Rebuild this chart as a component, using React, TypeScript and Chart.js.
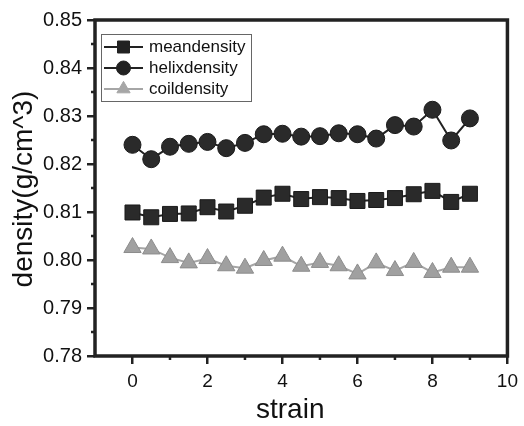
import React, { useEffect, useRef } from "react";
import { Chart, registerables } from "chart.js";

Chart.register(...registerables);

const strain = [0, 0.5, 1, 1.5, 2, 2.5, 3, 3.5, 4, 4.5, 5, 5.5, 6, 6.5, 7, 7.5, 8, 8.5, 9];
const meanDensity = [0.8099, 0.8089, 0.8096, 0.8097, 0.811, 0.8101, 0.8113, 0.813, 0.8138, 0.8127, 0.8131, 0.8129, 0.8123, 0.8125, 0.8129, 0.8137, 0.8144, 0.8121, 0.8138];
const helixDensity = [0.824, 0.821, 0.8236, 0.8242, 0.8246, 0.8233, 0.8244, 0.8262, 0.8263, 0.8257, 0.8258, 0.8264, 0.8262, 0.8253, 0.8281, 0.8278, 0.8313, 0.8249, 0.8295];
const coilDensity = [0.8026, 0.8023, 0.8005, 0.7994, 0.8003, 0.7988, 0.7983, 0.7999, 0.8008, 0.7987, 0.7995, 0.7988, 0.7971, 0.7994, 0.7978, 0.7995, 0.7974, 0.7985, 0.7985];
const xTicks = [0, 2, 4, 6, 8, 10];
const yTicks = [0.78, 0.79, 0.8, 0.81, 0.82, 0.83, 0.84, 0.85];
const xMinorTicks = [1, 3, 5, 7, 9];
const yMinorTicks = [0.785, 0.795, 0.805, 0.815, 0.825, 0.835, 0.845];
const seriesNames = ["meandensity", "helixdensity", "coildensity"];

const FONT = "'Liberation Sans', Arial, sans-serif";
const DARK = "#222222";
const GRAY = "#a6a6a6";

function drawMarker(ctx: CanvasRenderingContext2D, style: string, x: number, y: number, s: number, fill: string, stroke: string) {
  ctx.save();
  ctx.fillStyle = fill;
  ctx.strokeStyle = stroke;
  ctx.lineWidth = 1;
  ctx.beginPath();
  if (style === "rect") {
    ctx.rect(x - s / 2, y - s / 2, s, s);
  } else if (style === "circle") {
    ctx.arc(x, y, s / 2, 0, Math.PI * 2);
  } else {
    const r = s / 1.7;
    ctx.moveTo(x, y - r);
    ctx.lineTo(x + r * 0.866, y + r / 2);
    ctx.lineTo(x - r * 0.866, y + r / 2);
    ctx.closePath();
  }
  ctx.fill();
  ctx.stroke();
  ctx.restore();
}

const framePlugin = {
  id: "frame",
  beforeDatasetsDraw(chart: any) {
    const { ctx, chartArea } = chart;
    const xs = chart.scales.x;
    const ys = chart.scales.y;
    ctx.save();
    ctx.strokeStyle = DARK;
    ctx.lineWidth = 3.5;
    ctx.beginPath();
    ctx.moveTo(chartArea.left, chartArea.bottom);
    ctx.lineTo(chartArea.left, chartArea.top);
    ctx.lineTo(chartArea.right, chartArea.top);
    ctx.lineTo(chartArea.right, chartArea.bottom);
    ctx.lineTo(chartArea.left, chartArea.bottom);
    ctx.closePath();
    ctx.stroke();
    ctx.lineWidth = 2.5;
    ctx.beginPath();
    xMinorTicks.forEach((v) => {
      const px = xs.getPixelForValue(v);
      ctx.moveTo(px, chartArea.bottom);
      ctx.lineTo(px, chartArea.bottom + 4);
    });
    yMinorTicks.forEach((v) => {
      const py = ys.getPixelForValue(v);
      ctx.moveTo(chartArea.left, py);
      ctx.lineTo(chartArea.left - 4, py);
    });
    ctx.stroke();
    ctx.restore();
  },
  afterDraw(chart: any) {
    const { ctx, chartArea } = chart;
    ctx.save();
    // axis titles
    ctx.fillStyle = "#111";
    ctx.font = `28px ${FONT}`;
    ctx.textAlign = "center";
    ctx.textBaseline = "middle";
    ctx.fillText("strain", (chartArea.left + chartArea.right) / 2 - 11, 410);
    ctx.save();
    ctx.translate(24, 189);
    ctx.rotate(-Math.PI / 2);
    ctx.fillText("density(g/cm^3)", 0, 0);
    ctx.restore();

    // legend
    ctx.strokeStyle = "#666";
    ctx.lineWidth = 1;
    ctx.strokeRect(101.5, 34.5, 150, 67);
    const rows = [47, 68, 89];
    const styles = ["rect", "circle", "triangle"];
    const colors = [DARK, DARK, GRAY];
    const sizes = [12, 14, 13];
    rows.forEach((ry, i) => {
      ctx.strokeStyle = colors[i];
      ctx.lineWidth = 2;
      ctx.beginPath();
      ctx.moveTo(104, ry);
      ctx.lineTo(143, ry);
      ctx.stroke();
      drawMarker(ctx, styles[i], 123.5, ry, sizes[i], colors[i], colors[i]);
      ctx.fillStyle = "#111";
      ctx.font = `17px ${FONT}`;
      ctx.textAlign = "left";
      ctx.textBaseline = "middle";
      ctx.fillText(seriesNames[i], 149, ry);
    });
    ctx.restore();
  },
};

export default function App() {
  const ref = useRef<HTMLCanvasElement>(null);

  useEffect(() => {
    document.body.style.margin = "0";
    const canvas = ref.current;
    if (!canvas) return;
    const toPts = (arr: number[]) => arr.map((y, i) => ({ x: strain[i], y }));
    const chart = new Chart(canvas, {
      type: "line",
      data: {
        datasets: [
          {
            label: seriesNames[0],
            data: toPts(meanDensity),
            borderColor: DARK,
            backgroundColor: "#2a2a2a",
            borderWidth: 2,
            pointStyle: "rect",
            pointRadius: 10.6,
            pointBorderColor: "#1a1a1a",
            pointBorderWidth: 1,
          },
          {
            label: seriesNames[1],
            data: toPts(helixDensity),
            borderColor: DARK,
            backgroundColor: "#2a2a2a",
            borderWidth: 2,
            pointStyle: "circle",
            pointRadius: 8.5,
            pointBorderColor: "#1a1a1a",
            pointBorderWidth: 1,
          },
          {
            label: seriesNames[2],
            data: toPts(coilDensity),
            borderColor: GRAY,
            backgroundColor: "#a0a0a0",
            borderWidth: 2,
            pointStyle: "triangle",
            pointRadius: 10,
            pointBorderColor: "#8c8c8c",
            pointBorderWidth: 1,
          },
        ],
      } as any,
      options: {
        responsive: false,
        animation: false,
        layout: { padding: { left: 0, top: 20, right: 10, bottom: 0 } },
        plugins: { legend: { display: false }, tooltip: { enabled: false } },
        scales: {
          x: {
            type: "linear",
            min: -1,
            max: 10,
            afterBuildTicks: (s: any) => {
              s.ticks = xTicks.map((v) => ({ value: v }));
            },
            afterFit: (s: any) => {
              s.height = 70;
            },
            grid: { drawOnChartArea: false, drawTicks: true, tickLength: 8, color: DARK, lineWidth: 2.5 },
            border: { display: false },
            ticks: {
              color: "#111",
              font: { family: FONT, size: 19 },
              padding: 6,
              maxRotation: 0,
              callback: (v: any) => String(v),
            },
          },
          y: {
            type: "linear",
            min: 0.78,
            max: 0.85,
            afterBuildTicks: (s: any) => {
              s.ticks = yTicks.map((v) => ({ value: v }));
            },
            afterFit: (s: any) => {
              s.width = 95;
            },
            grid: { drawOnChartArea: false, drawTicks: true, tickLength: 8, color: DARK, lineWidth: 2.5 },
            border: { display: false },
            ticks: {
              color: "#111",
              font: { family: FONT, size: 20 },
              padding: 5,
              callback: (v: any) => Number(v).toFixed(2),
            },
          },
        },
      } as any,
      plugins: [framePlugin],
    });
    return () => chart.destroy();
  }, []);

  return (
    <div style={{ width: 524, height: 426, background: "#fff" }}>
      <canvas ref={ref} width={524} height={426} />
    </div>
  );
}
